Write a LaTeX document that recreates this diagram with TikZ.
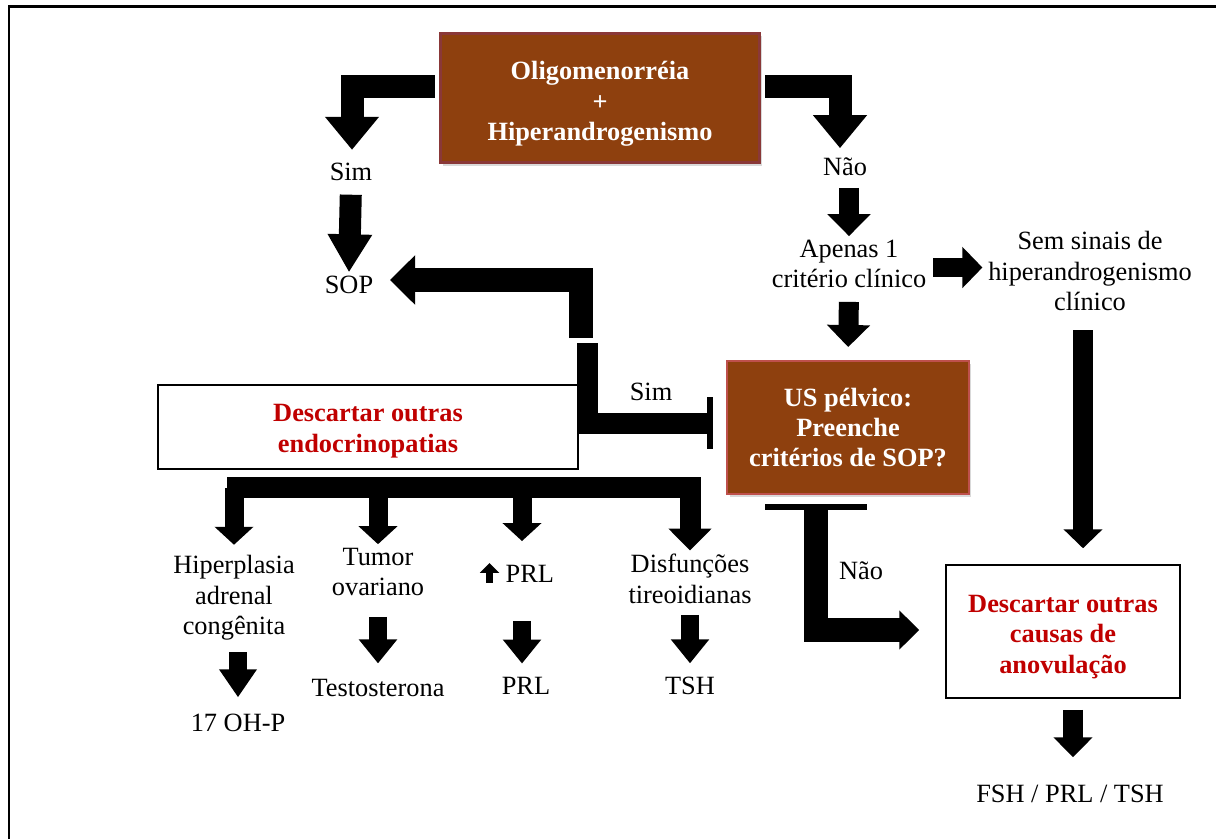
\documentclass[tikz,border=0pt]{standalone}
\usepackage{fontspec}
\setmainfont{Liberation Serif}
\usetikzlibrary{arrows.meta,calc,shadows}
\definecolor{boxbrown}{RGB}{142,64,14}
\definecolor{topedge}{RGB}{138,56,56}
\definecolor{usedge}{RGB}{190,80,76}
\definecolor{alertred}{RGB}{192,0,0}
\newcommand{\uparrowmark}{\tikz[baseline=0pt]\draw[line width=3.6pt,
  -{Triangle[length=5.6pt,width=10.8pt]}] (0,-0.3pt) -- (0,11pt);}
\newcommand{\lowerline}[1]{\rule{0pt}{#1}}

\begin{document}
\begin{tikzpicture}[x=0.02cm, y=-0.02cm,
  txt/.style={font=\fontsize{15}{17.3}\selectfont, align=center, inner sep=2pt},
  brownbox/.style={draw=usedge, line width=0.04cm, fill=boxbrown, text=white, align=center,
    font=\fontsize{15}{17.3}\selectfont\bfseries,
    drop shadow={opacity=0.3, shadow xshift=0.05cm, shadow yshift=-0.06cm}},
  whitebox/.style={draw, line width=0.03cm, fill=white, text=alertred, align=center,
    font=\fontsize{15}{17.3}\selectfont\bfseries},
  fatarrow/.style={line width=0.46cm, -{Triangle[length=0.66cm,width=1.04cm]}},
  blockarrow/.style={line width=0.4cm, -{Triangle[length=0.44cm,width=0.84cm]}},
  downarrow/.style={line width=0.36cm, -{Triangle[length=0.48cm,width=0.74cm]}},
  forkarrow/.style={line width=0.38cm, -{Triangle[length=0.36cm,width=0.76cm]}},
  fatbar/.style={line width=0.42cm},
  tbar/.style={line width=0.12cm}]
\useasboundingbox (0,0) rectangle (1216,839);
\draw[line width=0.06cm] (9,839) -- (9,6) -- (1216,6);

% boxes
\node[brownbox, draw=topedge, line width=0.06cm, minimum width=6.4cm, minimum height=2.6cm]
  (top) at (600,98) {\lowerline{17.4pt}Oligomenorréia\\+\\Hiperandrogenismo};
\node[brownbox, minimum width=4.84cm, minimum height=2.66cm]
  (us) at (848,427.5) {US pélvico:\\Preenche\\critérios de SOP?};
\node[whitebox, minimum width=8.4cm, minimum height=1.68cm]
  (endo) at (368,427) {\lowerline{14.4pt}Descartar outras\\endocrinopatias};
\node[whitebox, minimum width=4.68cm, minimum height=2.66cm]
  (anov) at (1063,631.5) {\lowerline{16pt}Descartar outras\\causas de\\anovulação};

% texts
\node[txt] (sim1) at (351,172) {Sim};
\node[txt] (nao1) at (845,167) {Não};
\node[txt] (sop) at (349,285) {SOP};
\node[txt] (apenas) at (849,264) {Apenas 1\\critério clínico};
\node[txt] (semsinais) at (1090,271) {Sem sinais de\\hiperandrogenismo\\clínico};
\node[txt] (sim2) at (651,392) {Sim};
\node[txt] (nao2) at (861,571) {Não};
\node[txt] (hiper) at (234,598) {Hiperplasia\\adrenal\\congênita};
\node[txt] (ohp) at (238,723) {17 OH-P};
\node[txt] (tumor) at (378,572) {Tumor\\ovariano};
\node[txt] (testo) at (378,688) {Testosterona};
\node[txt] (prl1) at (517,573) {\uparrowmark\ PRL};
\node[txt] (prl2) at (526,686) {PRL};
\node[txt] (disf) at (690,579) {Disfunções\\tireoidianas};
\node[txt] (tsh) at (690,686) {TSH};
\node[txt] (fsh) at (1070,794) {FSH / PRL / TSH};

% top branches
\draw[fatarrow] ($(top.west)+(-4,-11.5)$) -| ($(sim1.north)+(1,-9.5)$);
\draw[fatarrow] ($(top.east)+(4,-11.5)$) -| ($(nao1.north)+(-5,-6)$);
\draw[blockarrow, line width=0.44cm, -{Triangle[length=0.76cm,width=0.84cm]},
  shorten <=0.2cm] (sim1.south) -- (sop.north);

% right column
\draw[blockarrow, shorten <=0.16cm] (nao1.south -| apenas.north) -- (apenas.north);
\draw[blockarrow, shorten <=0.2cm, shorten >=0.26cm] (apenas.south) -- (us.north);
\draw[blockarrow, line width=0.38cm, -{Triangle[length=0.4cm,width=0.8cm]}]
  ($(apenas.east)+(3,3.5)$) -- ($(apenas.east -| semsinais.west)+(-2,3.5)$);
\draw[blockarrow, -{Triangle[length=0.38cm,width=0.76cm]}]
  ($(semsinais.south)+(-7,15.5)$) -- ($(anov.north)+(20,-16)$);
\draw[blockarrow, -{Triangle[length=0.4cm,width=0.76cm]}]
  ($(anov.south)+(10,11)$) -- ($(fsh.north)+(3,-24)$);

% US: Sim back to SOP
\coordinate (simbreak) at (584,340);
\draw[tbar] ($(us.west)+(-16,-30.5)$) -- ++(0,52);
\draw[fatbar] ($(us.west)+(-18,-4.5)$) -| ($(simbreak)+(3,3)$);
\draw[line width=0.48cm, -{Triangle[length=0.5cm,width=0.96cm]}]
  ($(simbreak)+(-3,-2)$) |- ($(sop.east)+(13,-5)$);

% US: Nao to anovulacao
\draw[tbar] ($(us.south)+(-83,12.5)$) -- ++(102,0);
\draw[line width=0.48cm, -{Triangle[length=0.4cm,width=0.76cm]}]
  ($(us.south)+(-32,14)$) |- ($(anov.west)+(-26,-1.5)$);

% endocrinopatias fork
\coordinate (forkL) at (227,487.5);
\draw[blockarrow, line width=0.42cm] (forkL) -| (disf.north);
\draw[forkarrow, shorten >=0.14cm] (forkL -| hiper.north) -- (hiper.north);
\draw[forkarrow] (forkL -| tumor.north) -- (tumor.north);
\draw[forkarrow, shorten >=0.3cm] ($(forkL -| prl1.north)+(5,0)$) -- ($(prl1.north)+(5,0)$);

% second row
\draw[downarrow, -{Triangle[length=0.56cm,width=0.72cm]}, shorten <=0.16cm, shorten >=0.26cm]
  (hiper.south -| ohp.north) -- (ohp.north);
\draw[downarrow, shorten <=0.34cm, shorten >=0.24cm] (tumor.south) -- (testo.north);
\draw[downarrow, shorten <=0.62cm, shorten >=0.2cm]
  ($(prl1.south)+(5,0)$) -- ($(prl2.north)+(-4,0)$);
\draw[downarrow, shorten <=0.15cm, shorten >=0.2cm] (disf.south) -- (tsh.north);
\end{tikzpicture}
\end{document}
